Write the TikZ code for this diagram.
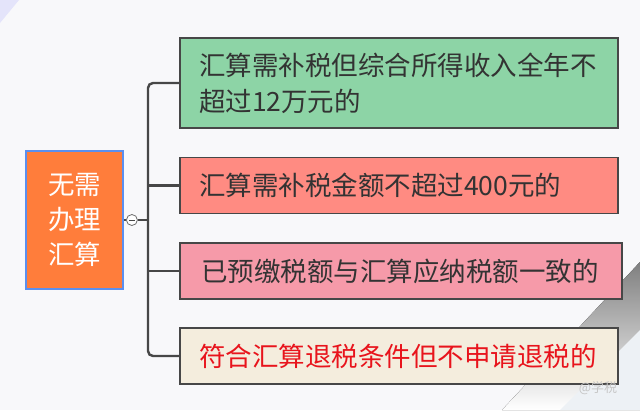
\documentclass[tikz,border=0pt]{standalone}
\usepackage{fontspec}
\newfontfamily\cjk{Noto Sans CJK SC}
\usetikzlibrary{
	positioning,
	calc}
\definecolor{paper}{HTML}{F8F8FA}
\definecolor{shade}{HTML}{E5ECF1}
\definecolor{rootfill}{HTML}{FF7D3B}
\definecolor{rootedge}{HTML}{5B8FEF}
\definecolor{edge}{HTML}{474747}
\definecolor{ink}{HTML}{333333}
\definecolor{greenbox}{HTML}{8DD4A6}
\definecolor{salmonbox}{HTML}{FF8B82}
\definecolor{pinkbox}{HTML}{F69AA9}
\definecolor{beigebox}{HTML}{F4EDDD}
\definecolor{alert}{HTML}{E8141C}
\tikzset{
	mind map/.style={
		x=1pt, y=-1pt,
		font=\cjk\fontsize{26.5}{36}\selectfont,
		},
	root topic/.style={
		rectangle,
		draw=rootedge,
		fill=rootfill,
		line width=2pt,
		text=white,
		align=center,
		minimum width=97pt,
		minimum height=138pt,
		font=\cjk\fontsize{26.5}{35}\selectfont
	},
	topic/.style={
		rectangle,
		draw=edge,
		line width=1.4pt,
		text=ink,
		align=left,
		inner xsep=0pt,
		text width=400pt,
		minimum width=438pt,
		minimum height=56pt
	},
	branch/.style={
		draw=edge,
		line width=2.4pt,
		rounded corners=5pt
	},
	fold/.style={
		circle,
		draw=edge!80,
		fill=white,
		line width=0.8pt,
		inner sep=0pt,
		minimum size=11pt
	},
}
\begin{document}
\begin{tikzpicture}[mind map]
	\fill[paper] (0,0) rectangle (640,410);
	\useasboundingbox (0,0) rectangle (640,410);
	\fill[shade] (640,262) -- (640,410) -- (502,410) -- cycle;
	\fill[shade!60!paper] (560,410) -- (640,330) -- (640,410) -- cycle;
	\fill[blue!8!paper] (0,0) -- (19,0) -- (0,23) -- cycle;
%
	\node[root topic]                    (root) at (74.5,220) {无需\\办理\\汇算};
	\node[fold, right=2pt of root]       (btn) {};
	\coordinate                          (hub) at (148,220);
	\node[topic, fill=greenbox, minimum height=90pt]  (t1) at (399,83)    {汇算需补税但综合所得收入全年不\\超过12万元的};
	\node[topic, fill=salmonbox]         (t2) at (399,185.5) {汇算需补税金额不超过400元的};
	\node[topic, fill=pinkbox, minimum width=442pt]   (t3) at (401,271)   {已预缴税额与汇算应纳税额一致的};
	\node[topic, fill=beigebox, text=alert]           (t4) at (399,356)   {符合汇算退税条件但不申请退税的};
	\node[text=gray!45, font=\cjk\fontsize{13}{13}\selectfont] (mark) at (598,388) {@学税};
%
	\draw[edge, line width=1.6pt] (root.east) -- (btn.west);
	\draw[edge, line width=0.9pt] ($(btn.center)+(-3,0)$) -- ($(btn.center)+(3,0)$);
	\draw[branch] (btn.east) -- (hub);
	\draw[branch] (t1.west) -| (hub) |- (t4.west);
	\draw[branch] (hub |- t2.west) -- (t2.west);
	\draw[branch] (hub |- t3.west) -- (t3.west);
\end{tikzpicture}
\end{document}
